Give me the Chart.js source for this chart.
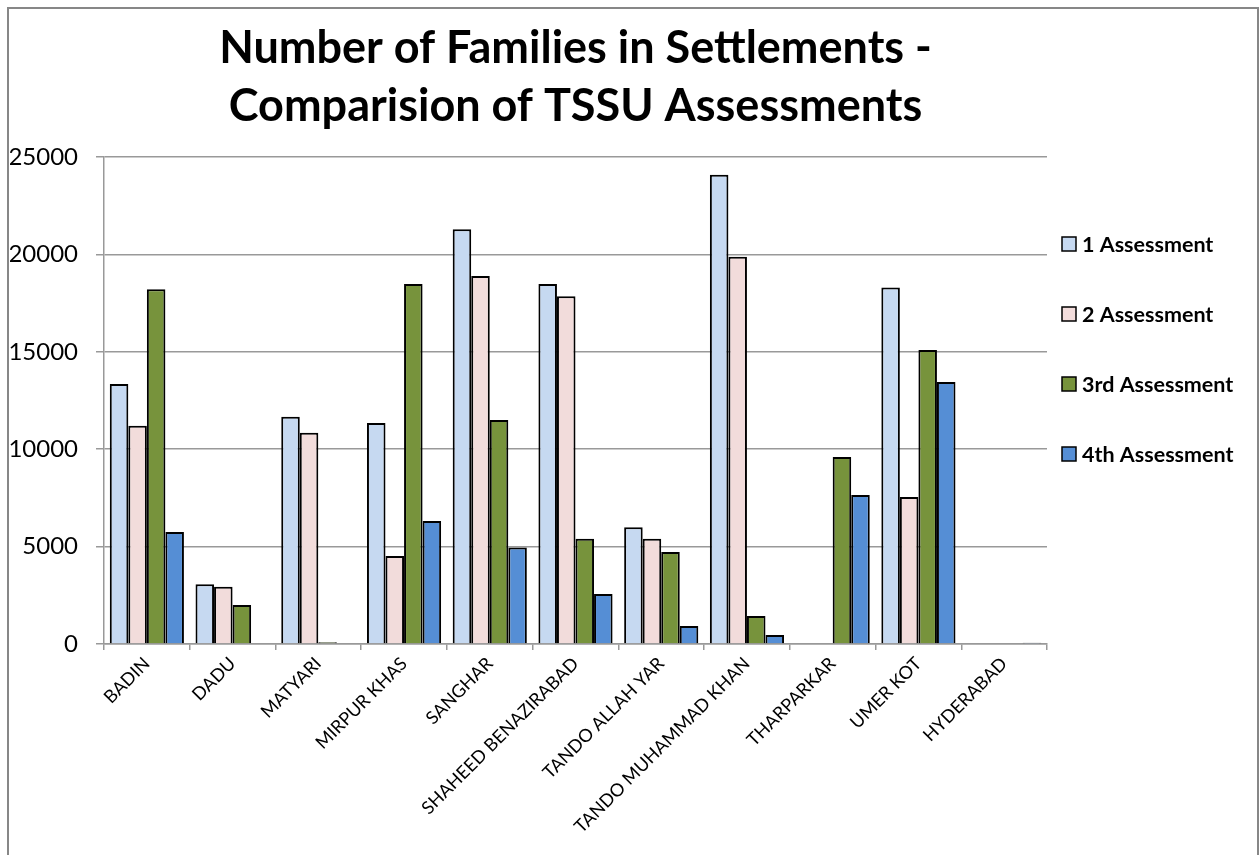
<!DOCTYPE html>
<html>
<head>
<meta charset="utf-8">
<script src="https://cdn.jsdelivr.net/npm/chart.js@4/dist/chart.umd.min.js"></script>
<style>
  html, body { margin: 0; padding: 0; background: #fff; overflow: hidden; }
  #frame {
    position: absolute; left: 7px; top: 7px; width: 1248px; height: 900px;
    border: 2px solid #878787; border-bottom: none;
  }
  #c { position: absolute; left: 0; top: 0; }
</style>
</head>
<body>
<div id="frame"></div>
<canvas id="c" width="1259" height="855"></canvas>
<script>
// Districts on the category axis
const districts = [
  'BADIN', 'DADU', 'MATYARI', 'MIRPUR KHAS', 'SANGHAR', 'SHAHEED BENAZIRABAD',
  'TANDO ALLAH YAR', 'TANDO MUHAMMAD KHAN', 'THARPARKAR', 'UMER KOT', 'HYDERABAD'
];

// Families counted in each TSSU assessment round
const assessment1 = [13350, 3070, 11670, 11350, 21300, 18480, 6000, 24090, 0, 18300, 0];
const assessment2 = [11200, 2940, 10850, 4520, 18900, 17850, 5400, 19880, 0, 7550, 0];
const assessment3 = [18220, 2000, 90, 18480, 11500, 5400, 4720, 1440, 9600, 15090, 0];
const assessment4 = [5750, 0, 40, 6310, 4950, 2570, 920, 460, 7650, 13450, 60];

const seriesNames = ['1 Assessment', '2 Assessment', '3rd Assessment', '4th Assessment'];
const seriesColors = ['#C6D9F1', '#F2DCDB', '#77933C', '#558ED5'];
const yTicks = [0, 5000, 10000, 15000, 20000, 25000];

const titleLines = ['Number of Families in Settlements -', 'Comparision of TSSU Assessments'];
const FONT = 'Lato, "Open Sans", sans-serif';

// Legend drawn to the right of the plot area
const sideLegend = {
  id: 'sideLegend',
  afterDraw(chart) {
    const ctx = chart.ctx;
    const x0 = chart.chartArea.right + 15;
    const yStart = 244, step = 70;
    ctx.save();
    ctx.font = 'bold 21.5px ' + FONT;
    ctx.textBaseline = 'middle';
    chart.data.datasets.forEach((ds, i) => {
      const y = yStart + i * step;
      ctx.fillStyle = ds.backgroundColor;
      ctx.fillRect(x0, y - 7, 14, 14);
      ctx.strokeStyle = '#000';
      ctx.lineWidth = 1.5;
      ctx.strokeRect(x0, y - 7, 14, 14);
      ctx.fillStyle = '#000';
      ctx.fillText(ds.label, x0 + 20, y + 1);
    });
    ctx.restore();
  }
};

const allSeries = [assessment1, assessment2, assessment3, assessment4];

new Chart(document.getElementById('c'), {
  type: 'bar',
  data: {
    labels: districts,
    datasets: allSeries.map((vals, i) => ({
      label: seriesNames[i],
      data: vals,
      backgroundColor: seriesColors[i],
      borderColor: '#000',
      borderWidth: 2,
      categoryPercentage: 0.865,
      barPercentage: 1.0
    }))
  },
  options: {
    responsive: false,
    devicePixelRatio: 1,
    animation: false,
    layout: { padding: { left: 10, right: 212, top: 0, bottom: 0 } },
    plugins: {
      legend: { display: false },
      tooltip: { enabled: false },
      title: {
        display: true,
        fullSize: false,
        text: titleLines,
        color: '#000',
        font: { family: FONT, size: 45, weight: 'bold', lineHeight: 1.29 },
        padding: { top: 19, bottom: 22 }
      }
    },
    scales: {
      x: {
        afterFit(s) { s.height = 211; },
        grid: { display: true, drawOnChartArea: false, color: '#999', lineWidth: 1.5, tickLength: 6, offset: true },
        border: { display: true, color: '#999', width: 1.5 },
        ticks: {
          color: '#000',
          font: { family: FONT, size: 18 },
          maxRotation: 45, minRotation: 45, autoSkip: false, padding: 3
        }
      },
      y: {
        min: 0, max: 25000,
        afterFit(s) { s.width = 94; },
        afterBuildTicks(s) { s.ticks = yTicks.map(v => ({ value: v })); },
        grid: { color: '#999', lineWidth: 1.5, tickLength: 8 },
        border: { display: true, color: '#999', width: 1.5 },
        ticks: {
          color: '#000', font: { family: FONT, size: 24 }, padding: 18,
          callback: v => String(v)
        }
      }
    }
  },
  plugins: [sideLegend]
});
</script>
</body>
</html>
